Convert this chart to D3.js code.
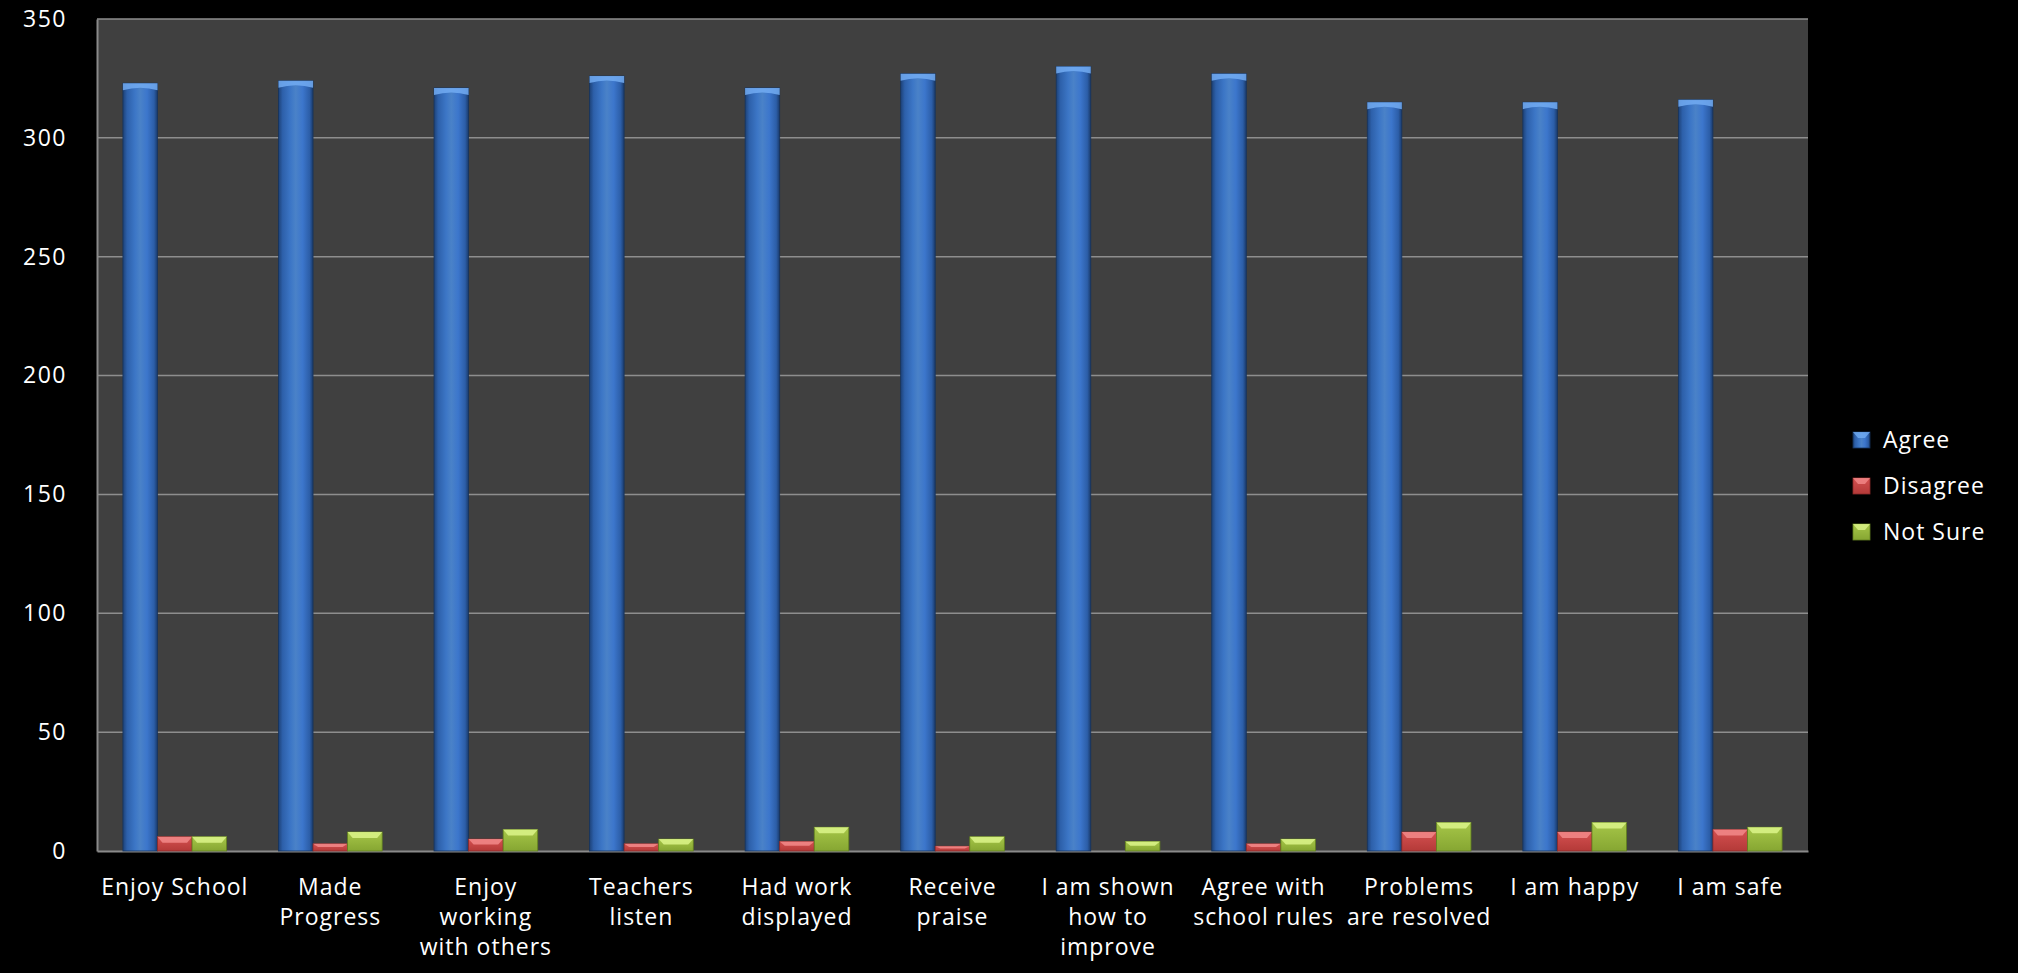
<!DOCTYPE html>
<html>
<head>
<meta charset="utf-8">
<script src="https://cdn.jsdelivr.net/npm/d3@7"></script>
<style>
  html, body { margin: 0; padding: 0; background: #000; }
  svg { display: block; }
  text { font-family: 'Open Sans', sans-serif; fill: #fff; }
</style>
</head>
<body>
<svg id="chart"></svg>
<script>
const categories = [
  'Enjoy School', 'Made Progress', 'Enjoy working with others', 'Teachers listen',
  'Had work displayed', 'Receive praise', 'I am shown how to improve',
  'Agree with school rules', 'Problems are resolved', 'I am happy', 'I am safe'
];
const categoryLines = [
  ['Enjoy School'], ['Made', 'Progress'], ['Enjoy', 'working', 'with others'],
  ['Teachers', 'listen'], ['Had work', 'displayed'], ['Receive', 'praise'],
  ['I am shown', 'how to', 'improve'], ['Agree with', 'school rules'],
  ['Problems', 'are resolved'], ['I am happy'], ['I am safe']
];
const seriesNames = ['Agree', 'Disagree', 'Not Sure'];
const agree    = [323, 324, 321, 326, 321, 327, 330, 327, 315, 315, 316];
const disagree = [6, 3, 5, 3, 4, 2, 0, 3, 8, 8, 9];
const notSure  = [6, 8, 9, 5, 10, 6, 4, 5, 12, 12, 10];
const yTicks = [0, 50, 100, 150, 200, 250, 300, 350];

const width = 2018;
const height = 973;
const margin = { left: 97, right: 210, top: 19, bottom: 122 };

const svg = d3.select('#chart').attr('width', width).attr('height', height);

const defs = svg.append('defs');
const blueGrad = defs.append('linearGradient').attr('id', 'gAgree')
  .attr('x1', 0).attr('x2', 1).attr('y1', 0).attr('y2', 0);
[[0, '#1d4278'], [0.12, '#2d60aa'], [0.35, '#3c76c6'], [0.5, '#4a82c8'],
 [0.7, '#3c76cc'], [0.9, '#2c5ea8'], [1, '#1a3a6a']].forEach(s =>
  blueGrad.append('stop').attr('offset', s[0]).attr('stop-color', s[1]));
const redGrad = defs.append('linearGradient').attr('id', 'gDisagree')
  .attr('x1', 0).attr('x2', 0).attr('y1', 0).attr('y2', 1);
[[0, '#d45050'], [1, '#b43a38']].forEach(s =>
  redGrad.append('stop').attr('offset', s[0]).attr('stop-color', s[1]));
const greenGrad = defs.append('linearGradient').attr('id', 'gNotSure')
  .attr('x1', 0).attr('x2', 0).attr('y1', 0).attr('y2', 1);
[[0, '#a6c648'], [1, '#86a632']].forEach(s =>
  greenGrad.append('stop').attr('offset', s[0]).attr('stop-color', s[1]));

const fills = { 'Agree': 'url(#gAgree)', 'Disagree': 'url(#gDisagree)', 'Not Sure': 'url(#gNotSure)' };
const tops = { 'Agree': '#72acf2', 'Disagree': '#f28a8a', 'Not Sure': '#dcf48a' };
const edges = { 'Agree': '#16345e', 'Disagree': '#8e2a28', 'Not Sure': '#62801e' };

const x0 = d3.scaleBand()
  .domain(categories)
  .range([margin.left, width - margin.right]);

const barW = x0.bandwidth() / 4.5;
const x1 = d3.scaleBand()
  .domain(seriesNames)
  .range([barW * 0.75, x0.bandwidth() - barW * 0.75]);

const y = d3.scaleLinear()
  .domain([0, 350])
  .range([height - margin.bottom, margin.top]);

// plot area
svg.append('rect')
  .attr('x', margin.left).attr('y', margin.top)
  .attr('width', width - margin.left - margin.right)
  .attr('height', height - margin.top - margin.bottom)
  .attr('fill', '#404040');

// gridlines
svg.append('g')
  .selectAll('line')
  .data(yTicks.filter(d => d > 0))
  .enter()
  .append('line')
  .attr('x1', margin.left).attr('x2', width - margin.right)
  .attr('y1', d => y(d)).attr('y2', d => y(d))
  .attr('stroke', '#8e8e8e').attr('stroke-width', 1.5);

// y axis
const yAxis = d3.axisLeft(y).tickValues(yTicks).tickSize(0).tickPadding(30);
const yG = svg.append('g')
  .attr('transform', `translate(${margin.left}, 0)`)
  .call(yAxis);
yG.select('.domain').attr('stroke', '#8a8a8a').attr('stroke-width', 2);
yG.selectAll('text')
  .style('font-size', '23px')
  .style('letter-spacing', '1.5px')
  .attr('fill', '#fff');

// x axis
const xAxis = d3.axisBottom(x0).tickSize(0).tickFormat('');
const xG = svg.append('g')
  .attr('transform', `translate(0, ${height - margin.bottom})`)
  .call(xAxis);
xG.select('.domain').attr('stroke', '#8a8a8a').attr('stroke-width', 2);

xG.selectAll('.tick').each(function(d, i) {
  const t = d3.select(this).append('text')
    .attr('text-anchor', 'middle')
    .attr('y', 44)
    .style('font-size', '23px')
    .style('letter-spacing', '1px')
    .attr('fill', '#fff');
  categoryLines[i].forEach((line, k) => {
    t.append('tspan').attr('x', 0).attr('dy', k === 0 ? 0 : 30).text(line);
  });
});

// bars
const rows = categories.map((c, i) => ({
  category: c,
  values: [
    { key: 'Agree', value: agree[i] },
    { key: 'Disagree', value: disagree[i] },
    { key: 'Not Sure', value: notSure[i] }
  ]
}));

const groups = svg.append('g')
  .selectAll('g')
  .data(rows)
  .enter()
  .append('g')
  .attr('transform', d => `translate(${x0(d.category)}, 0)`);

const bars = groups.selectAll('g')
  .data(d => d.values.filter(v => v.value > 0))
  .enter()
  .append('g');

bars.append('rect')
  .attr('x', d => x1(d.key))
  .attr('y', d => y(d.value))
  .attr('width', x1.bandwidth())
  .attr('height', d => y(0) - y(d.value))
  .attr('fill', d => fills[d.key])
  .attr('stroke', d => edges[d.key])
  .attr('stroke-width', 0.8);

// bevelled tops
bars.append('path')
  .attr('d', d => {
    const xl = x1(d.key), w = x1.bandwidth();
    const top = y(d.value);
    if (d.key === 'Agree') {
      return `M${xl},${top} L${xl + w},${top} L${xl + w},${top + 7} ` +
        `Q${xl + w / 2},${top + 2} ${xl},${top + 7} Z`;
    }
    const h = Math.min(6, (y(0) - top) * 0.45);
    return `M${xl},${top} L${xl + w},${top} L${xl + w - 5},${top + h} L${xl + 5},${top + h} Z`;
  })
  .attr('fill', d => tops[d.key])
  .attr('opacity', 0.85);

// legend
const legend = svg.append('g')
  .attr('transform', `translate(1853, 440)`);
const items = legend.selectAll('g')
  .data(seriesNames)
  .enter()
  .append('g')
  .attr('transform', (d, i) => `translate(0, ${i * 46})`);
items.append('rect')
  .attr('x', 0).attr('y', -8)
  .attr('width', 17).attr('height', 16)
  .attr('fill', d => fills[d])
  .attr('stroke', d => edges[d]).attr('stroke-width', 0.8);
items.append('path')
  .attr('d', 'M0,-8 L17,-8 L12,-2 L5,-2 Z')
  .attr('fill', d => tops[d]).attr('opacity', 0.8);
items.append('text')
  .attr('x', 30).attr('y', 0)
  .attr('dy', '0.35em')
  .style('font-size', '23px')
  .style('letter-spacing', '1px')
  .text(d => d);
</script>
</body>
</html>
